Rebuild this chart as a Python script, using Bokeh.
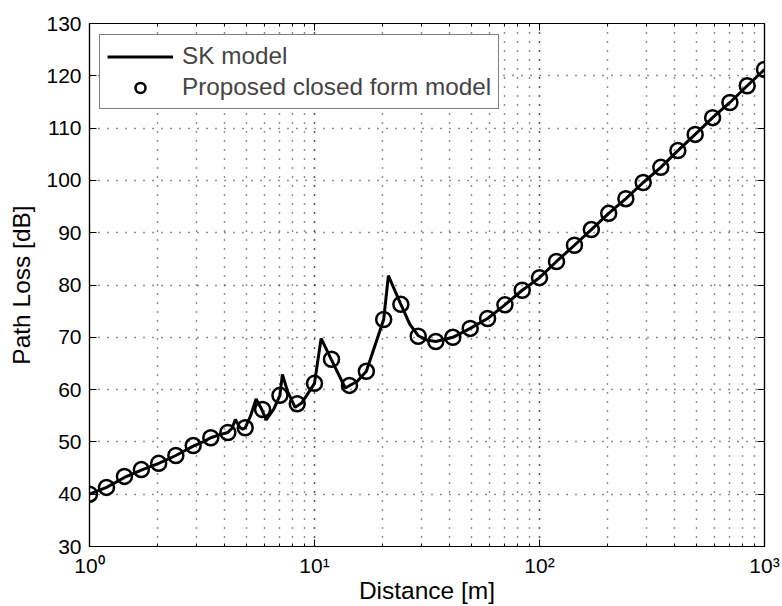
from bokeh.plotting import figure
from bokeh.models import (LogAxis, LinearAxis, Legend, LegendItem, Range1d,
                          CustomJSTickFormatter, FixedTicker, LogTicker)
from bokeh.embed import file_html
from bokeh.resources import INLINE

# SK model curve: distance [m] and path loss [dB]
sk_distance = [1.0, 1.19, 1.43, 1.70, 2.03, 2.42, 2.89, 3.20, 3.46, 3.80, 4.12,
               4.30, 4.45, 4.65, 4.80, 4.92, 5.20, 5.50, 5.80, 6.10, 6.60, 7.02,
               7.20, 7.60, 8.20, 8.80, 10.0, 10.7, 11.9, 13.7, 15.5, 17.0, 20.3,
               21.3, 24.2, 26.5, 28.9, 31.5, 34.6, 41.2, 49.2, 58.8, 70.2, 83.8,
               100, 119, 143, 170, 203, 242, 289, 346, 412, 492, 588, 702, 838, 1000]
sk_loss = [40.0, 41.3, 43.2, 44.6, 45.9, 47.4, 49.2, 50.0, 50.8, 51.4, 51.8,
           52.6, 54.3, 52.8, 52.4, 52.7, 55.0, 58.2, 56.4, 54.2, 56.3, 58.9,
           62.9, 59.6, 56.6, 57.5, 61.2, 69.8, 65.7, 60.3, 61.6, 63.5, 73.4,
           81.8, 76.3, 72.5, 70.3, 69.5, 69.2, 70.0, 71.7, 73.6, 76.2, 79.0,
           81.4, 84.5, 87.6, 90.6, 93.7, 96.5, 99.6, 102.5, 105.7, 108.8, 112.0,
           114.9, 118.1, 121.2]

# Proposed closed form model samples
cf_distance = [1.0, 1.19, 1.43, 1.70, 2.03, 2.42, 2.89, 3.46, 4.12, 4.92, 5.88,
               7.02, 8.38, 10.0, 11.9, 14.3, 17.0, 20.3, 24.2, 28.9, 34.6, 41.2,
               49.2, 58.8, 70.2, 83.8, 100, 119, 143, 170, 203, 242, 289, 346,
               412, 492, 588, 702, 838, 1000]
cf_loss = [40.0, 41.3, 43.4, 44.7, 45.9, 47.4, 49.3, 50.8, 51.8, 52.7, 56.2,
           58.9, 57.3, 61.2, 65.8, 60.8, 63.5, 73.4, 76.3, 70.2, 69.2, 70.0,
           71.7, 73.6, 76.2, 79.0, 81.4, 84.5, 87.6, 90.6, 93.7, 96.5, 99.6,
           102.5, 105.7, 108.8, 112.0, 114.9, 118.1, 121.2]

y_ticks = [30, 40, 50, 60, 70, 80, 90, 100, 110, 120, 130]

FONT = "Liberation Sans"

p = figure(width=782, height=606, x_axis_type="log",
           x_range=Range1d(1, 1000), y_range=Range1d(30, 130),
           output_backend="svg", toolbar_location=None,
           min_border_left=89, min_border_right=18,
           min_border_top=23, min_border_bottom=60,
           background_fill_color="white", border_fill_color="white")

p.outline_line_color = "black"
p.outline_line_width = 1.2

sup_fmt = CustomJSTickFormatter(code="""
    const sup = {"0": "\u2070", "1": "\u00b9", "2": "\u00b2", "3": "\u00b3",
                 "-": "\u207b"};
    const e = Math.round(Math.log10(tick));
    return "10" + String(e).split("").map(c => sup[c]).join("");
""")

xt = LogTicker(num_minor_ticks=10)
yt = FixedTicker(ticks=y_ticks)

def style_axis(ax, show_labels):
    ax.axis_line_color = "black"
    ax.axis_line_width = 1.2
    ax.major_tick_in = 7
    ax.major_tick_out = 0
    ax.minor_tick_in = 3
    ax.minor_tick_out = 0
    ax.major_tick_line_color = "black"
    ax.minor_tick_line_color = "black"
    ax.major_label_text_font = FONT
    ax.major_label_text_color = "black"
    ax.axis_label_text_color = "black"
    if show_labels:
        ax.major_label_text_font_size = "21px"
    else:
        ax.major_label_text_font_size = "1px"
        ax.major_label_text_alpha = 0
        ax.major_label_standoff = 0

xa = p.xaxis[0]
xa.ticker = xt
xa.formatter = sup_fmt
style_axis(xa, True)
xa.major_label_standoff = 7
xa.axis_label = "Distance [m]"
xa.axis_label_text_font = FONT
xa.axis_label_text_font_size = "24.5px"
xa.axis_label_text_font_style = "normal"
xa.axis_label_standoff = -3

ya = p.yaxis[0]
ya.ticker = yt
style_axis(ya, True)
ya.minor_tick_in = 0
ya.major_label_standoff = 8
ya.axis_label = "Path Loss [dB]"
ya.axis_label_text_font = FONT
ya.axis_label_text_font_size = "24.5px"
ya.axis_label_text_font_style = "normal"
ya.axis_label_standoff = 8

top = LogAxis(ticker=xt)
style_axis(top, False)
p.add_layout(top, "above")

right = LinearAxis(ticker=yt)
style_axis(right, False)
right.minor_tick_in = 0
p.add_layout(right, "right")

# dotted grid, minor x lines included
p.xgrid.ticker = xt
p.ygrid.ticker = yt
for g in (p.xgrid, p.ygrid):
    g.grid_line_color = "#222222"
    g.grid_line_dash = "1 8"
    g.grid_line_width = 1.4
p.xgrid.minor_grid_line_color = "#222222"
p.xgrid.minor_grid_line_dash = "1 8"
p.xgrid.minor_grid_line_width = 1.4

sk = p.line(sk_distance, sk_loss, line_color="black", line_width=3)
cf = p.scatter(cf_distance, cf_loss, marker="circle", size=15,
               fill_color=None, line_color="black", line_width=2.5)

legend = Legend(items=[LegendItem(label="SK model", renderers=[sk]),
                       LegendItem(label="Proposed closed form model", renderers=[cf])],
                location=(10, 437), margin=0, padding=7, spacing=3,
                glyph_width=66, glyph_height=25, label_height=25,
                label_standoff=9,
                label_text_font=FONT, label_text_font_size="24.3px",
                border_line_color="black", border_line_width=1.2,
                background_fill_color="white", background_fill_alpha=1)
p.add_layout(legend, "center")

open("out.html", "w").write(file_html(p, INLINE))
